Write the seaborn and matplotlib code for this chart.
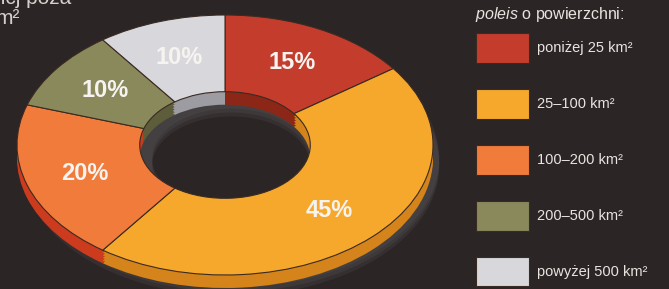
import matplotlib
matplotlib.use('Agg')
import matplotlib.pyplot as plt
import seaborn as sns

# shares of poleis by area
sizes = [15, 45, 20, 10, 10]
categories = ['poniżej 25 km²', '25–100 km²', '100–200 km²', '200–500 km²', 'powyżej 500 km²']
top_colors = ['#c43c2b', '#f6a82c', '#f17b3b', '#8a895c', '#d8d8dc']
side_colors = ['#8c2717', '#d4841a', '#cc3b1e', '#5e5d3b', '#9c9ca2']

bg = '#2c2526'
sns.set_style('dark', {'axes.facecolor': bg, 'figure.facecolor': bg})
plt.rcParams['font.family'] = ['Liberation Sans', 'DejaVu Sans']
plt.rcParams['mathtext.fontset'] = 'custom'
plt.rcParams['mathtext.rm'] = 'Liberation Sans'
plt.rcParams['mathtext.it'] = 'Liberation Sans:italic'

W, H = 669, 289
fig = plt.figure(figsize=(W / 100, H / 100), dpi=100)
ax = fig.add_axes([0, 0, 440 / W, 1])
ax.set_facecolor(bg)

# soft shadow under the ring
for s in [0.16, 0.13, 0.10]:
    ax.pie([1], colors=['#8a8c90'], center=(0.03, -s), radius=1.0,
           wedgeprops=dict(width=0.62, edgecolor='none', alpha=0.10))

# extruded side of the ring
depth = [0.10, 0.08, 0.06, 0.04, 0.02]
for d in depth:
    ax.pie(sizes, colors=side_colors, startangle=90, counterclock=False,
           center=(0, -d), radius=1,
           wedgeprops=dict(width=0.59, edgecolor='none'))

# top surface
wedges, _, pct = ax.pie(sizes, colors=top_colors, startangle=90, counterclock=False,
                        radius=1, autopct='%d%%', pctdistance=0.71,
                        wedgeprops=dict(width=0.59, edgecolor='#3a2a22', linewidth=0.8),
                        textprops=dict(color='#f7f3f0', fontsize=17, fontweight='bold'))

# squash into an ellipse
ax.set_aspect('auto')
ax.set_xlim(-225 / 208, (440 - 225) / 208)
ax.set_ylim(-144 / 130, 145 / 130)
ax.axis('off')

fig.legend(wedges, categories, loc='upper left',
           bbox_to_anchor=(476 / W, 1 - 33 / H), frameon=False,
           handlelength=3.6, handleheight=2.78, labelspacing=1.78,
           handletextpad=0.55, borderpad=0, borderaxespad=0,
           fontsize=10.5, labelcolor='#e8e4e0')

fig.text(475 / W, 1 - 15 / H, r'$\mathit{poleis}$ o powierzchni:', color='#e8e4e0',
         fontsize=11.5, ha='left', va='center')

# cut-off heading at top left
fig.text(71 / W, 1 - 4 / H, 'nicj poza', color='#d4d0cc', fontsize=15,
         ha='right', va='baseline')
fig.text(-4 / W, 1 - 24 / H, 'm²', color='#d4d0cc', fontsize=15,
         ha='left', va='baseline')

fig.savefig('out.png', dpi=100, facecolor=bg)
